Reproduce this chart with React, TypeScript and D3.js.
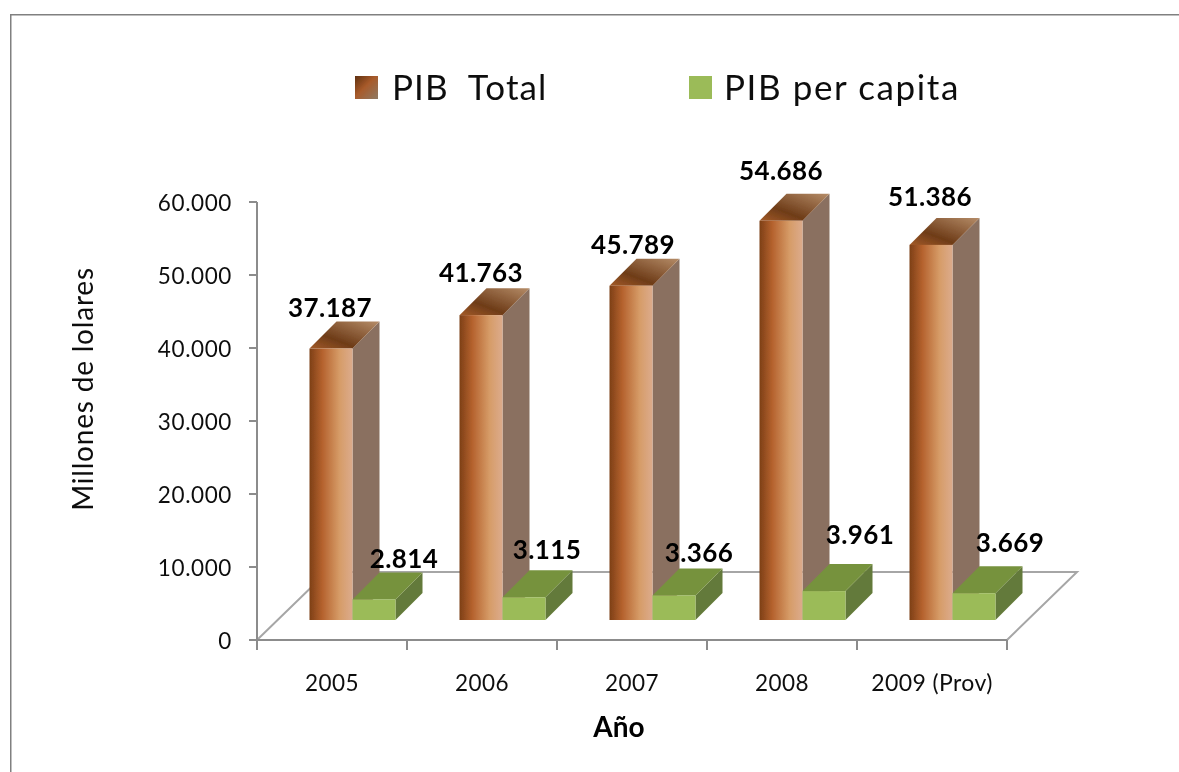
import React from 'react'
import * as d3 from 'd3'

const years = ['2005', '2006', '2007', '2008', '2009 (Prov)']
const pibTotal = [37187, 41763, 45789, 54686, 51386]
const pibPerCapita = [2814, 3115, 3366, 3961, 3669]
const yTicks = [0, 10000, 20000, 30000, 40000, 50000, 60000]

// hand nudges for the data labels, they are not placed evenly in the original
const totalNudge = [[-28, -5], [-27, -6], [-25, -5], [-27, -14], [-28, -12]]
const capitaNudge = [[3, -4], [-4, -11], [-2, -6], [9, -20], [9, -14]]

const width = 1179
const height = 772
const left = 257
const right = 1007
const bottom = 640
const top = 202
const depth = 27 // bar depth
const floorDepth = 70
const floorRise = 68
const shift = 20 // bars sit this far back on the floor
const shiftX = 20.5

const fmt = (v: number) => d3.format(',')(v).replace(/,/g, '.')

const App = () => {
  const x = d3.scaleBand<string>().domain(years).range([left, right])
  const y = d3.scaleLinear().domain([0, 60000]).range([bottom, top])
  const barW = 43
  const barPad = (x.bandwidth() - 2 * barW) / 2
  const base = y(0) - shift
  const h = (v: number) => y(0) - y(v)

  const box = (x0: number, v: number, front: string, side: string, topFill: string) => {
    const yt = base - h(v)
    return (
      <g>
        <polygon points={`${x0 + barW},${yt} ${x0 + barW + depth},${yt - depth} ${x0 + barW + depth},${base - depth} ${x0 + barW},${base}`} fill={side} />
        <polygon points={`${x0},${yt} ${x0 + depth},${yt - depth} ${x0 + barW + depth},${yt - depth} ${x0 + barW},${yt}`} fill={topFill} />
        <rect x={x0} y={yt} width={barW} height={base - yt} fill={front} />
      </g>
    )
  }

  return (
    <svg width={width} height={height} viewBox={`0 0 ${width} ${height}`}
      style={{ position: 'absolute', left: 0, top: 0, fontFamily: 'Lato, "Open Sans", sans-serif' }}>
      <defs>
        <linearGradient id="front">
          <stop offset="0" stopColor="#7d3f16" />
          <stop offset="0.3" stopColor="#b5622e" />
          <stop offset="0.7" stopColor="#d69c68" />
          <stop offset="1" stopColor="#dcab8c" />
        </linearGradient>
        <linearGradient id="topFace" x1="0" y1="1" x2="1" y2="0">
          <stop offset="0" stopColor="#a35a28" />
          <stop offset="0.35" stopColor="#6e3c18" />
          <stop offset="1" stopColor="#b58c68" />
        </linearGradient>
        <linearGradient id="swatch" x1="0" y1="0" x2="1" y2="1">
          <stop offset="0" stopColor="#5e3010" />
          <stop offset="0.45" stopColor="#a85a2a" />
          <stop offset="1" stopColor="#8f7a64" />
        </linearGradient>
        {/* the reference is a soft, upscaled image */}
        <filter id="soft" x="0" y="0" width="100%" height="100%">
          <feGaussianBlur stdDeviation="0.45" />
        </filter>
      </defs>
      <rect width={width} height={height} fill="#fff" />
      <g filter="url(#soft)">
        <path d={`M10.5,${height} V14.5 H${width}`} fill="none" stroke="#808080" strokeWidth={2} />

        {/* floor */}
        <path d={`M${left},${bottom} L${left + floorDepth},${bottom - floorRise} H${right + floorDepth} L${right},${bottom}`}
          fill="none" stroke="#a6a6a6" strokeWidth={2} />

        {/* axes */}
        <path d={`M${left},${top} V${bottom} H${right}`} fill="none" stroke="#8c8c8c" strokeWidth={2} />
        {yTicks.map(t => (
          <g key={t}>
            <line x1={left - 8} x2={left} y1={y(t)} y2={y(t)} stroke="#8c8c8c" strokeWidth={2} />
            <text x={232} y={y(t) + 1} dy="0.35em" textAnchor="end" fontSize={22.5} fill="#111" letterSpacing={0.6}>{fmt(t)}</text>
          </g>
        ))}
        {years.map(c => (
          <line key={c} x1={x(c)!} x2={x(c)!} y1={bottom} y2={bottom + 10} stroke="#8c8c8c" strokeWidth={2} />
        ))}
        <line x1={right} x2={right} y1={bottom} y2={bottom + 10} stroke="#8c8c8c" strokeWidth={2} />

        {/* bars */}
        {years.map((c, i) => {
          const x0 = x(c)! + barPad + shiftX
          return (
            <g key={c}>
              {box(x0, pibTotal[i], 'url(#front)', '#8a7060', 'url(#topFace)')}
              {box(x0 + barW, pibPerCapita[i], '#9bbb59', '#647a3a', '#76923c')}
            </g>
          )
        })}

        {/* data labels */}
        {years.map((c, i) => {
          const x0 = x(c)! + barPad + shiftX
          return (
            <g key={c} fontWeight={700} fontSize={26} fill="#000" textAnchor="middle" letterSpacing={0.4}>
              <text x={x0 + depth + barW / 2 + totalNudge[i][0]} y={base - h(pibTotal[i]) - depth + totalNudge[i][1]}>{fmt(pibTotal[i])}</text>
              <text x={x0 + barW + depth + barW / 2 + capitaNudge[i][0]} y={base - h(pibPerCapita[i]) - depth + capitaNudge[i][1]}>{fmt(pibPerCapita[i])}</text>
            </g>
          )
        })}

        {/* category labels */}
        {years.map((c, i) => (
          <text key={c} x={x(c)! + x.bandwidth() / 2} y={691} textAnchor="middle" fontSize={i === 4 ? 23 : 22.5} fill="#111" letterSpacing={0.4}>{c}</text>
        ))}
        <text x={619} y={737} textAnchor="middle" fontSize={28} fontWeight={700} fill="#000">Año</text>
        <text transform="translate(93,389) rotate(-90)" textAnchor="middle" fontSize={28} fill="#111" letterSpacing={0.8}>Millones de lolares</text>

        {/* legend */}
        <rect x={355} y={76} width={23} height={23} fill="url(#swatch)" />
        <text x={392} y={100} fontSize={35} fill="#111" letterSpacing={1.1} xmlSpace="preserve">PIB  Total</text>
        <rect x={689} y={76} width={23} height={23} fill="#9bbb59" />
        <text x={724} y={100} fontSize={35} fill="#111" letterSpacing={1.6}>PIB per capita</text>
      </g>
    </svg>
  )
}

export default App
